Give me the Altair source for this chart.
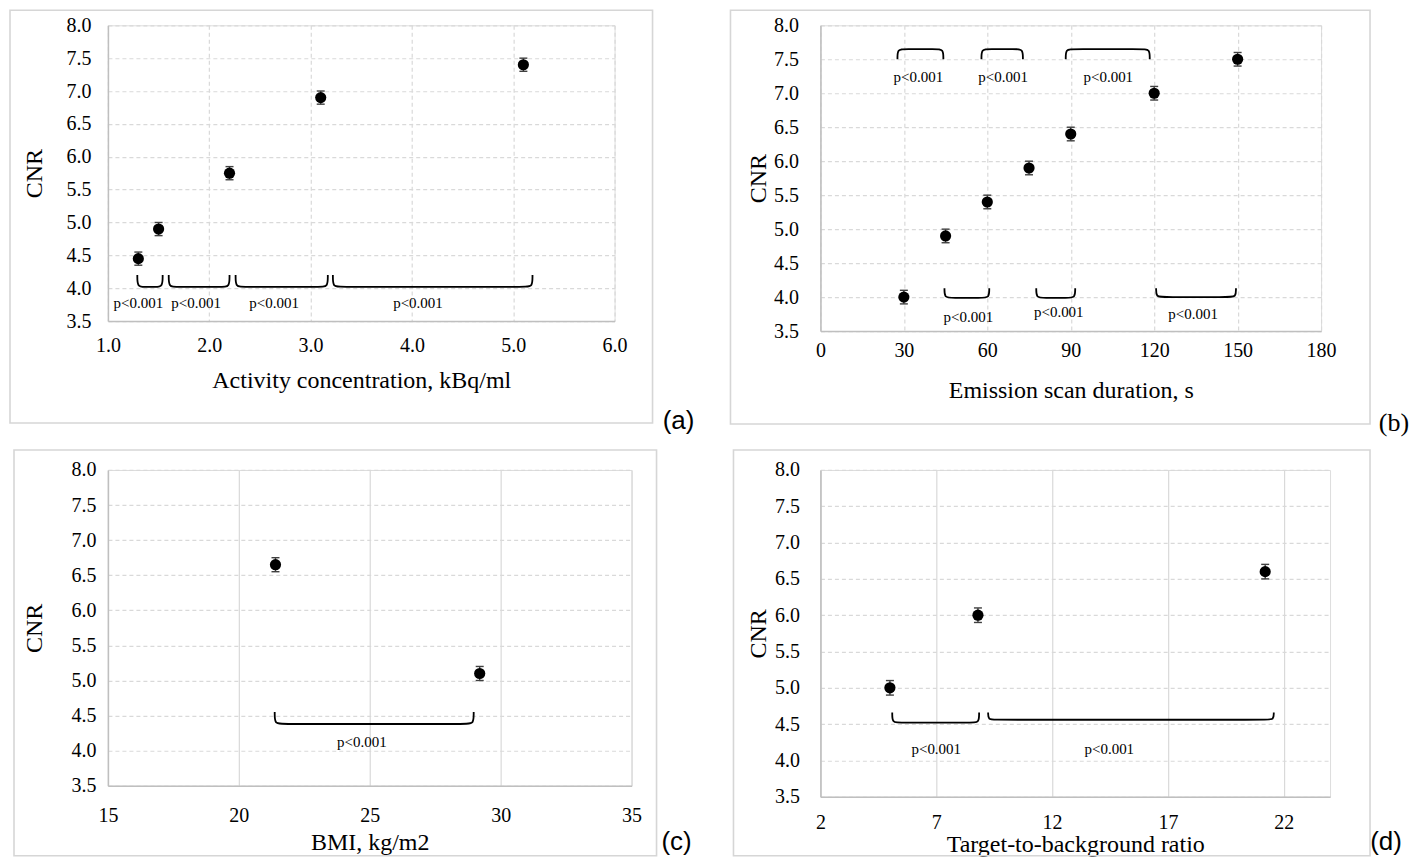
import altair as alt
import pandas as pd

SERIF = "Liberation Serif"
SANS = "Liberation Sans"

Y_TICKS = [3.5, 4.0, 4.5, 5.0, 5.5, 6.0, 6.5, 7.0, 7.5, 8.0]

# ---- panel (a)
a_x = [1.3, 1.5, 2.2, 3.1, 5.1]
a_y = [4.45, 4.9, 5.75, 6.9, 7.4]
a_err = [0.1, 0.1, 0.1, 0.1, 0.1]
a_xticks = [1, 2, 3, 4, 5, 6]
a_br_start = [1.29, 1.60, 2.26, 3.22]
a_br_end = [1.54, 2.20, 3.17, 5.19]
a_br_tip = [4.20, 4.20, 4.20, 4.20]
a_br_base = [4.02, 4.02, 4.02, 4.02]
a_txt_x = [1.30, 1.87, 2.64, 4.06]
a_txt_y = [3.77, 3.77, 3.77, 3.77]

# ---- panel (b)
b_x = [30, 45, 60, 75, 90, 120, 150]
b_y = [4.0, 4.9, 5.4, 5.9, 6.4, 7.0, 7.5]
b_err = [0.1, 0.1, 0.1, 0.1, 0.1, 0.1, 0.1]
b_xticks = [0, 30, 60, 90, 120, 150, 180]
b_br_start = [27.7, 57.9, 88.2, 44.6, 77.6, 120.7]
b_br_end = [44.2, 72.8, 118.4, 60.7, 91.6, 149.4]
b_br_tip = [7.50, 7.50, 7.50, 4.13, 4.13, 4.13]
b_br_base = [7.65, 7.65, 7.65, 3.99, 3.99, 4.00]
b_txt_x = [35.2, 65.7, 103.5, 53.2, 85.7, 134.0]
b_txt_y = [7.24, 7.24, 7.24, 3.71, 3.78, 3.75]

# ---- panel (c)
c_x = [21.4, 29.2]
c_y = [6.65, 5.1]
c_err = [0.1, 0.1]
c_xticks = [15, 20, 25, 30, 35]
c_br_start = [21.37]
c_br_end = [28.97]
c_br_tip = [4.55]
c_br_base = [4.38]
c_txt_x = [24.7]
c_txt_y = [4.12]

# ---- panel (d)
d_x = [5.0, 8.8, 21.2]
d_y = [5.0, 6.0, 6.6]
d_err = [0.1, 0.1, 0.1]
d_xticks = [2, 7, 12, 17, 22]
d_br_start = [5.10, 9.24]
d_br_end = [8.85, 21.57]
d_br_tip = [4.66, 4.66]
d_br_base = [4.52, 4.56]
d_txt_x = [7.0, 14.47]
d_txt_y = [4.16, 4.16]

P_TEXT = "p<0.001"


def bracket_rows(starts, ends, tips, bases, rx):
    rows = []
    for i, (s, e, t, b) in enumerate(zip(starts, ends, tips, bases)):
        pts = [(s, t), (s, b), (s + rx, b), (e - rx, b), (e, b), (e, t)]
        for j, (px, py) in enumerate(pts):
            rows.append({"id": i, "o": j, "x": px, "y": py})
    return pd.DataFrame(rows)


def panel(xs, ys, errs, xticks, xdom, xfmt, xtitle, w, h,
          br, txt, xgrid_dash, xlab_pad, xtitle_pad, ylab_pad, ytitle_pad,
          box, label, label_pos, label_font):
    xscale = alt.Scale(domain=xdom, nice=False, zero=False)
    yscale = alt.Scale(domain=[3.5, 8.0], nice=False, zero=False)
    xaxis = alt.Axis(title=xtitle, values=xticks, format=xfmt, grid=True,
                     gridColor="#d9d9d9", gridDash=xgrid_dash, gridWidth=1.2,
                     domainColor="#bfbfbf", domainWidth=1.5, ticks=False, tickSize=0,
                     labelPadding=xlab_pad, titlePadding=xtitle_pad,
                     labelFont=SERIF, labelFontSize=20, labelColor="black",
                     titleFont=SERIF, titleFontSize=24, titleFontWeight="normal",
                     titleColor="black", labelFlush=False, labelOverlap=False)
    yaxis = alt.Axis(title="CNR", values=Y_TICKS, format=".1f", grid=True,
                     gridColor="#d9d9d9", gridDash=[4, 3], gridWidth=1.2,
                     domainColor="#bfbfbf", domainWidth=1.5, ticks=False, tickSize=0,
                     labelPadding=ylab_pad, titlePadding=ytitle_pad,
                     labelFont=SERIF, labelFontSize=20, labelColor="black",
                     titleFont=SERIF, titleFontSize=24, titleFontWeight="normal",
                     titleColor="black", labelFlush=False, labelOverlap=False)

    def X(f="x"):
        return alt.X(f"{f}:Q", scale=xscale, axis=xaxis)

    def Y(f="y"):
        return alt.Y(f"{f}:Q", scale=yscale, axis=yaxis)

    pts = pd.DataFrame({"x": xs, "y": ys,
                        "lo": [v - e for v, e in zip(ys, errs)],
                        "hi": [v + e for v, e in zip(ys, errs)]})
    caps = pd.DataFrame({"x": xs + xs, "y": list(pts["lo"]) + list(pts["hi"])})

    one = pd.DataFrame({"k": [0]})
    bx1, bx2, by1, by2 = box
    box_layer = alt.Chart(one).mark_rect(fill="white", fillOpacity=0, stroke="#d6d6d6",
                                         strokeWidth=1.6).encode(
        x=alt.value(bx1), x2=alt.value(bx2), y=alt.value(by1), y2=alt.value(by2))

    err_layer = alt.Chart(pts).mark_rule(color="#404040", strokeWidth=1.4).encode(
        x=X(), y=Y("lo"), y2="hi:Q")
    cap_layer = alt.Chart(caps).mark_tick(orient="horizontal", size=8, thickness=1.4,
                                         color="#404040", opacity=1).encode(x=X(), y=Y())
    pt_layer = alt.Chart(pts).mark_circle(size=125, color="black", opacity=1).encode(
        x=X(), y=Y())

    starts, ends, tips, bases = br
    rx = 7.0 * (xdom[1] - xdom[0]) / w
    brdf = bracket_rows(starts, ends, tips, bases, rx)
    br_layer = alt.Chart(brdf).mark_line(interpolate="basis", color="black",
                                         strokeWidth=1.8).encode(
        x=X(), y=Y(), detail="id:N", order="o:Q")

    tx, ty = txt
    tdf = pd.DataFrame({"x": tx, "y": ty, "t": [P_TEXT] * len(tx)})
    txt_layer = alt.Chart(tdf).mark_text(font=SERIF, fontSize=15, color="black",
                                         align="center", baseline="middle").encode(
        x=X(), y=Y(), text="t:N")

    lab_layer = alt.Chart(one).mark_text(font=label_font, fontSize=26, color="black",
                                         align="center", baseline="middle").encode(
        x=alt.value(label_pos[0]), y=alt.value(label_pos[1]), text=alt.value(label))

    return alt.layer(box_layer, err_layer, cap_layer, pt_layer, br_layer, txt_layer,
                     lab_layer).properties(width=w, height=h)


pa = panel(a_x, a_y, a_err, a_xticks, [1, 6], ".1f", "Activity concentration, kBq/ml",
           507, 296, (a_br_start, a_br_end, a_br_tip, a_br_base), (a_txt_x, a_txt_y),
           [4, 3], 14, 13, 17, 19, (-98, 545, -15, 398), "(a)", (571, 396), SANS)

pb = panel(b_x, b_y, b_err, b_xticks, [0, 180], "d", "Emission scan duration, s",
           501, 306, (b_br_start, b_br_end, b_br_tip, b_br_base), (b_txt_x, b_txt_y),
           [4, 3], 9, 18, 22, 3, (-90, 550, -15, 399), "(b)", (574, 398), SERIF)

pc = panel(c_x, c_y, c_err, c_xticks, [15, 35], "d", "BMI, kg/m2",
           524, 316, (c_br_start, c_br_end, c_br_tip, c_br_base), (c_txt_x, c_txt_y),
           [1, 0], 20, 5, 12, 24, (-94, 549, -20, 386), "(c)", (569, 372), SANS)

pd_ = panel(d_x, d_y, d_err, d_xticks, [2, 24], "d", "Target-to-background ratio",
            510, 327, (d_br_start, d_br_end, d_br_tip, d_br_base), (d_txt_x, d_txt_y),
            [1, 0], 16, 0, 21, 4, (-87, 550, -20, 386), "(d)", (566, 372), SANS)

chart = alt.concat(pa, pb, pc, pd_, columns=2, spacing={"row": 139, "column": 189},
                   bounds="flush", align="each").properties(
    padding={"left": 0, "top": 0, "right": 0, "bottom": 2}).configure_view(
    strokeWidth=0).configure(font=SERIF)

chart.save("out.html", embed_options={"renderer": "svg", "actions": False})
